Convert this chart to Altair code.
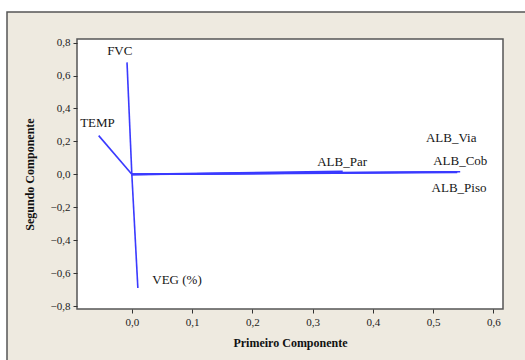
import altair as alt
import pandas as pd

variables = ["FVC", "TEMP", "VEG (%)", "ALB_Par", "ALB_Via", "ALB_Cob", "ALB_Piso"]
pc1 = [-0.008, -0.055, 0.010, 0.350, 0.540, 0.545, 0.540]
pc2 = [0.680, 0.235, -0.690, 0.018, 0.015, 0.016, 0.012]
label_x = [-0.020, -0.057, 0.075, 0.349, 0.530, 0.545, 0.543]
label_y = [0.750, 0.310, -0.640, 0.077, 0.220, 0.083, -0.080]

x_ticks = [0.0, 0.1, 0.2, 0.3, 0.4, 0.5, 0.6]
y_ticks = [-0.8, -0.6, -0.4, -0.2, 0.0, 0.2, 0.4, 0.6, 0.8]

W, H = 426, 270
SERIF = "Liberation Serif, Times New Roman, serif"

df = pd.DataFrame({
    "var": variables, "pc1": pc1, "pc2": pc2,
    "x0": [0.0] * len(variables), "y0": [0.0] * len(variables),
    "lx": label_x, "ly": label_y,
})

xs = alt.Scale(domain=[-0.091, 0.616], nice=False, zero=False)
ys = alt.Scale(domain=[-0.818, 0.822], nice=False, zero=False)
fmt = "replace(format(datum.value, '.1f'), '.', ',')"

x_axis = alt.Axis(values=x_ticks, labelExpr=fmt, title="Primeiro Componente",
                  grid=False, domain=False, zindex=1, labelOverlap=False)
y_axis = alt.Axis(values=y_ticks, labelExpr=fmt, title="Segundo Componente",
                  grid=False, domain=False, zindex=1, labelOverlap=False)

frame = alt.Chart(df.head(1)).mark_rect(
    fill="#EEEAE0", stroke="#555555", strokeWidth=1.5
).encode(
    x=alt.value(-70), x2=alt.value(470), y=alt.value(-27), y2=alt.value(360)
)

plot_bg = alt.Chart(df.head(1)).mark_rect(
    fill="white", stroke="#555555", strokeWidth=1.5
).encode(
    x=alt.value(0), x2=alt.value(W), y=alt.value(0), y2=alt.value(H)
)

lines = alt.Chart(df).mark_rule(color="#3a3aff", strokeWidth=1.6).encode(
    x=alt.X("x0:Q", scale=xs, axis=x_axis),
    y=alt.Y("y0:Q", scale=ys, axis=y_axis),
    x2="pc1:Q",
    y2="pc2:Q",
)

labels = alt.Chart(df).mark_text(
    font=SERIF, fontSize=13, color="#151515"
).encode(
    x=alt.X("lx:Q", scale=xs, axis=x_axis),
    y=alt.Y("ly:Q", scale=ys, axis=y_axis),
    text="var:N",
)

chart = alt.layer(frame, plot_bg, lines, labels).properties(
    width=W, height=H,
    autosize=alt.AutoSizeParams(type="none"),
    padding={"left": 77, "top": 39, "right": 22, "bottom": 51},
    background="white",
).configure_view(
    stroke=None, fill="white"
).configure_axis(
    labelFont=SERIF, labelFontSize=11, labelColor="#222222",
    titleFont=SERIF, titleFontSize=12, titleFontWeight="bold",
    titleColor="#111111", tickColor="#333333", tickSize=4, labelPadding=3,
).configure_axisX(
    titlePadding=10
).configure_axisY(
    titlePadding=14
)

chart.save("out.html", embed_options={"renderer": "svg", "actions": False})
